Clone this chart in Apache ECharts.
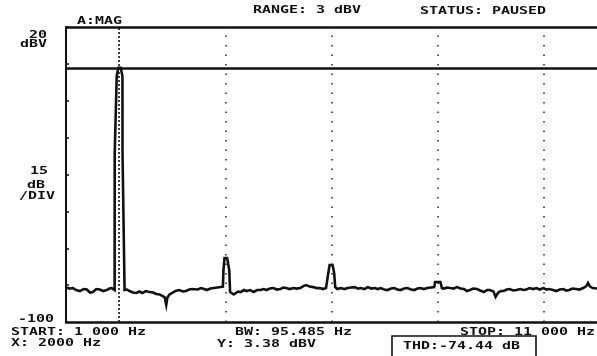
<!DOCTYPE html>
<html>
<head>
<meta charset="utf-8">
<script src="https://cdn.jsdelivr.net/npm/echarts@6/dist/echarts.min.js"></script>
<style>
html,body{margin:0;padding:0;background:#fff;}
#c{width:597px;height:356px;}
</style>
</head>
<body>
<div id="c"></div>
<script>
// ---- data ----
const traceFreqHz = [1000,1020,1070,1131,1190,1262,1330,1393,1450,1505,1570,1636,1700,1766,1820,1860,1885,1916,1917,1953,1955,1985,2030,2063,2065,2102,2103,2150,2196,2260,2327,2380,2439,2500,2570,2640,2701,2760,2813,2860,2888,2910,2950,2999,3060,3131,3200,3261,3320,3374,3411,3480,3542,3600,3654,3720,3785,3850,3916,3955,3965,3985,4035,4075,4090,4121,4160,4196,4240,4290,4350,4402,4470,4533,4600,4663,4720,4775,4840,4906,4970,5037,5090,5149,5210,5280,5350,5411,5470,5523,5590,5654,5720,5785,5840,5897,5930,5940,5965,6020,6050,6070,6110,6177,6240,6308,6370,6439,6500,6551,6620,6682,6750,6813,6870,6925,6990,7056,7120,7187,7240,7299,7370,7430,7500,7560,7620,7672,7740,7803,7870,7934,7950,8050,8080,8121,8180,8233,8300,8364,8430,8495,8550,8607,8670,8738,8800,8869,8930,8981,9050,9090,9140,9190,9242,9300,9354,9420,9485,9550,9616,9670,9728,9800,9859,9920,9990,10050,10102,10170,10233,10300,10364,10420,10476,10540,10607,10670,10738,10800,10831,10870,10920,11000];
const traceLevelDbv = [-86.0,-85.6,-86.4,-86.2,-87.0,-87.4,-86.6,-86.8,-88.0,-87.8,-86.6,-86.8,-87.4,-87.0,-86.4,-86.2,-86.6,-87.0,-32,-32,0,3.4,3.4,0,-32,-32,-87.0,-86.8,-87.4,-88.0,-88.2,-87.6,-88.2,-87.4,-87.8,-88.0,-88.6,-88.8,-89.4,-90.0,-93.0,-90.0,-88.8,-88.2,-87.4,-87.0,-87.6,-87.4,-86.8,-86.6,-86.2,-86.8,-86.2,-86.6,-87.0,-86.4,-86.2,-86.0,-85.8,-85.6,-79,-74,-74,-79,-87.8,-88.0,-88.8,-88.6,-87.6,-87.8,-87.0,-87.4,-87.0,-87.8,-87.0,-87.0,-86.6,-87.0,-86.4,-86.2,-86.8,-86.6,-86.0,-86.2,-86.6,-86.2,-86.4,-86.2,-85.4,-85.0,-85.6,-85.8,-86.2,-86.2,-86.6,-86.2,-85.8,-80,-76.8,-76.8,-80,-85.8,-86.6,-86.2,-86.6,-86.2,-86.0,-85.8,-86.4,-86.2,-86.6,-85.8,-86.4,-86.2,-86.6,-86.2,-86.8,-87.0,-86.4,-86.2,-86.8,-87.0,-86.4,-86.2,-86.8,-87.0,-86.4,-86.2,-86.6,-86.2,-86.0,-85.8,-83.7,-83.7,-86.2,-86.4,-86.0,-86.2,-86.4,-85.8,-86.4,-86.6,-87.4,-87.0,-86.4,-86.6,-87.2,-87.8,-87.0,-87.0,-87.6,-89.8,-88.0,-87.4,-87.4,-86.8,-86.6,-87.2,-87.0,-86.6,-87.0,-86.8,-86.2,-86.6,-86.2,-86.8,-86.2,-86.8,-86.6,-87.0,-87.4,-86.8,-86.6,-87.2,-87.0,-86.4,-86.6,-86.8,-86.2,-85.4,-84.1,-85.6,-86.2,-86.4];
const freqStartHz = 1000;
const freqStopHz = 11000;
const levelTopDbv = 20;
const levelBottomDbv = -100;
const dbPerDiv = 15;
const cursorFreqHz = 2000;
const cursorLevelDbv = 3.38;
const harmonicFreqsHz = [4000, 6000, 8000, 10000];

const texts = [
  ['A:MAG', 77, 21],
  ['RANGE: 3 dBV', 253, 10],
  ['STATUS: PAUSED', 420, 11],
  ['20', 29, 35],
  ['dBV', 20, 44],
  ['15', 30, 171],
  ['dB', 27, 185],
  ['/DIV', 19, 196],
  ['-100', 18, 319],
  ['START: 1 000 Hz', 11, 332],
  ['X: 2000 Hz', 11, 343],
  ['BW: 95.485 Hz', 235, 332],
  ['Y: 3.38 dBV', 217, 344],
  ['STOP: 11 000 Hz', 460, 332],
  ['THD:-74.44 dB', 403, 346]
];

const FONT = 'bold 11px "DejaVu Sans Mono", "Liberation Mono", monospace';
const graphics = texts.map(t => ({
  type: 'text', x: t[1], y: t[2], scaleX: 1.36, silent: true,
  style: { text: t[0], x: 0, y: 0, font: FONT, fill: '#111', textAlign: 'left', textVerticalAlign: 'middle' }
}));
graphics.push({
  type: 'rect', silent: true,
  shape: { x: 392, y: 336, width: 144, height: 30 },
  style: { fill: 'none', stroke: '#111', lineWidth: 1.6 }
});

const chart = echarts.init(document.getElementById('c'), null, { renderer: 'canvas' });
chart.setOption({
  animation: false,
  backgroundColor: '#fff',
  grid: { left: 66, right: -4, top: 27, bottom: 34 },
  xAxis: {
    type: 'value', min: freqStartHz, max: freqStopHz,
    axisLine: { show: true, onZero: false, lineStyle: { color: '#111', width: 2.5 } },
    axisTick: { show: false }, axisLabel: { show: false }, splitLine: { show: false }
  },
  yAxis: {
    type: 'value', min: levelBottomDbv, max: levelTopDbv, interval: dbPerDiv,
    axisLine: { show: true, lineStyle: { color: '#111', width: 2 } },
    axisTick: { show: true, inside: true, length: 3, lineStyle: { color: '#111', width: 1.5 } },
    axisLabel: { show: false }, splitLine: { show: false }
  },
  series: [{
    type: 'line',
    data: traceFreqHz.map((f, i) => [f, traceLevelDbv[i]]),
    showSymbol: false, symbol: 'none',
    lineStyle: { color: '#111', width: 2.6, join: 'miter' },
    clip: true,
    markLine: {
      silent: true, symbol: 'none', label: { show: false },
      data: [
        { yAxis: levelTopDbv, lineStyle: { color: '#111', width: 2.5, type: 'solid' } },
        { yAxis: cursorLevelDbv, lineStyle: { color: '#111', width: 2.5, type: 'solid' } },
        { xAxis: cursorFreqHz, lineStyle: { color: '#111', width: 1.6, type: [2, 2] } }
      ].concat(harmonicFreqsHz.map(f => ({ xAxis: f, lineStyle: { color: '#222', width: 1.5, type: [1.5, 8] } })))
    }
  }],
  graphic: graphics
});
</script>
</body>
</html>
